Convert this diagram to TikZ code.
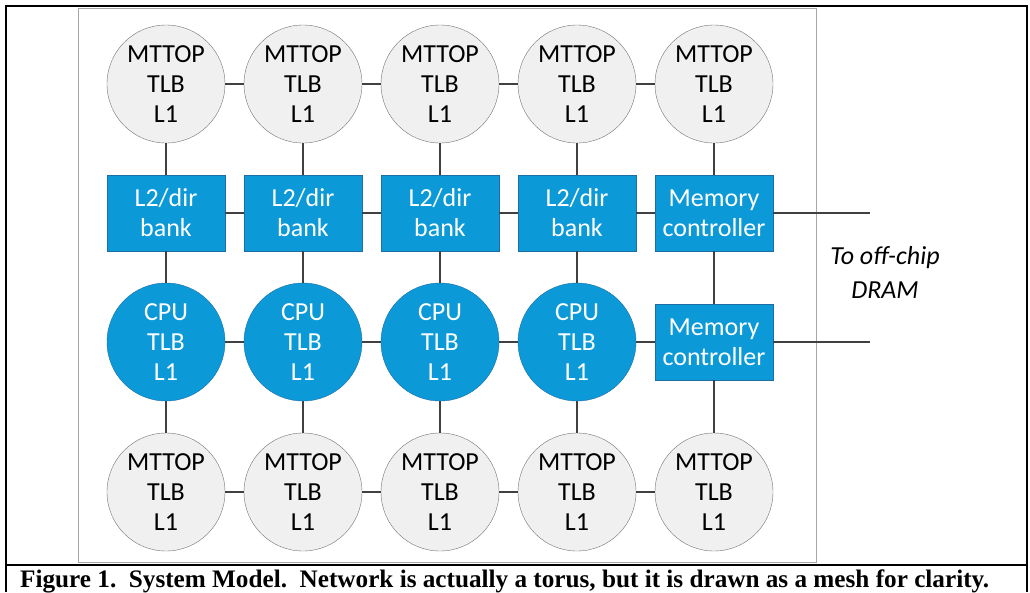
\documentclass[tikz,border=0pt]{standalone}
\usepackage{fontspec}
\setmainfont{Carlito}
\newfontfamily\captionfont{Liberation Serif}
\usetikzlibrary{positioning}
\definecolor{chipblue}{HTML}{0C99D8}
\definecolor{chipborder}{HTML}{1E6EA6}
\definecolor{nodegray}{HTML}{F0F0F0}
\definecolor{wiregray}{HTML}{404040}

\begin{document}
\begin{tikzpicture}[x=1pt, y=-1pt,
  mttop/.style={circle, draw=gray!90!black, fill=nodegray, minimum size=118pt, inner sep=0pt, align=center, font=\fontsize{26}{30}\selectfont},
  cpu/.style={circle, draw=chipborder, fill=chipblue, text=white, minimum size=118pt, inner sep=0pt, align=center, font=\fontsize{26}{30}\selectfont},
  bank/.style={rectangle, draw=chipborder, fill=chipblue, text=white, minimum width=118pt, minimum height=76pt, inner sep=0pt, align=center, font=\fontsize{26}{30}\selectfont},
  wire/.style={draw=wiregray, line width=1.3pt}]
\useasboundingbox (0,0) rectangle (1030,592);
% Outer frame and caption rule
\draw[line width=2pt] (6,592) -- (6,6) -- (1027,6) -- (1027,592);
\draw[line width=2pt] (6,565) -- (1027,565);
% Chip outline
\draw[gray!70] (78,8) rectangle (816,562);
% Tiles
\foreach \i/\x in {1/166,2/303,3/440,4/577,5/714} {
  \node[mttop] (t\i) at (\x,84) {MTTOP\\TLB\\L1};
  \node[mttop] (b\i) at (\x,492) {MTTOP\\TLB\\L1};
}
\foreach \i/\x in {1/166,2/303,3/440,4/577} {
  \node[bank] (l\i) at (\x,213) {L2/dir\\bank};
  \node[cpu] (c\i) at (\x,342) {CPU\\TLB\\L1};
}
\node[bank] (mc1) at (714,213) {Memory\\controller};
\node[bank] (mc2) at (714,342) {Memory\\controller};
% Mesh links
\foreach \a/\b in {t1/t2,t2/t3,t3/t4,t4/t5,b1/b2,b2/b3,b3/b4,b4/b5,
                   l1/l2,l2/l3,l3/l4,l4/mc1,c1/c2,c2/c3,c3/c4,c4/mc2,
                   t5/mc1,mc1/mc2,mc2/b5}
  \draw[wire] (\a) -- (\b);
\foreach \i in {1,...,4} {
  \draw[wire] (t\i) -- (l\i);
  \draw[wire] (l\i) -- (c\i);
  \draw[wire] (c\i) -- (b\i);
}
% Off-chip links
\coordinate (dram1) at (870,213);
\coordinate (dram2) at (870,342);
\draw[wire] (mc1) -- (dram1);
\draw[wire] (mc2) -- (dram2);
\node[align=center, font=\itshape\fontsize{26}{34}\selectfont] (dram) at (885,272) {To off-chip\\DRAM};
% Caption
\node[anchor=base west, inner sep=0pt, font=\captionfont\bfseries\fontsize{25.2}{28}\selectfont] (cap) at (20,587)
  {Figure 1.\ \ System Model.\ \ Network is actually a torus, but it is drawn as a mesh for clarity.};
\end{tikzpicture}
\end{document}
